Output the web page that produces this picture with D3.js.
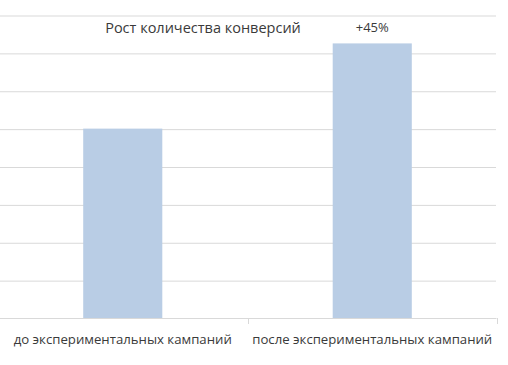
<!DOCTYPE html>
<html><head><meta charset="utf-8">
<script src="https://cdn.jsdelivr.net/npm/d3@7"></script>
<style>html,body{margin:0;padding:0;background:#fff;}svg{display:block;}</style>
</head><body>
<svg id="c" width="508" height="365"></svg>
<script>
const categories = ["до экспериментальных кампаний", "после экспериментальных кампаний"];
const values = [100, 145];
const barLabels = ["", "+45%"];
const yTicks = [20, 40, 60, 80, 100, 120, 140, 160];
const title = "Рост количества конверсий";

const svg = d3.select("#c");
const font = "'Open Sans', 'Noto Sans', sans-serif";
const x = d3.scaleBand().domain(categories).range([-2, 497]).padding(0);
const y = d3.scaleLinear().domain([0, 160]).range([318, 15]);
const barW = x.bandwidth() * 0.317;

// gridlines
svg.append("g")
  .call(d3.axisLeft(y).tickValues(yTicks).tickSize(-496).tickFormat(""))
  .call(g => g.select(".domain").remove())
  .call(g => g.selectAll("line").attr("stroke", "#d9d9d9").attr("stroke-width", 1).attr("transform", "translate(0,0.5)"));

// bars
svg.append("g").selectAll("rect").data(values).join("rect")
  .attr("x", (d, i) => x(categories[i]) + x.bandwidth() / 2 - barW / 2)
  .attr("y", d => y(d))
  .attr("width", barW)
  .attr("height", d => y(0) - y(d))
  .attr("fill", "#b9cde5");

// x axis
const xa = svg.append("g").attr("transform", "translate(0,318.5)")
  .call(d3.axisBottom(x).tickSize(0).tickFormat(""));
xa.select(".domain").attr("stroke", "#d9d9d9").attr("d", "M0,0H496.5");
const bounds = [x(categories[1]), x(categories[1]) + x.bandwidth() - 0.5];
svg.append("g").selectAll("line").data(bounds).join("line")
  .attr("x1", d => Math.round(d) + 0.5).attr("x2", d => Math.round(d) + 0.5)
  .attr("y1", 318).attr("y2", 324)
  .attr("stroke", "#d9d9d9");

// category labels
svg.append("g").selectAll("text").data(categories).join("text")
  .attr("x", d => x(d) + x.bandwidth() / 2)
  .attr("y", 344)
  .attr("text-anchor", "middle")
  .attr("font-family", font).attr("font-size", 13.2)
  .attr("fill", "#3a3a3a")
  .text(d => d);

// bar labels
svg.append("g").selectAll("text").data(values).join("text")
  .attr("x", (d, i) => x(categories[i]) + x.bandwidth() / 2)
  .attr("y", 32)
  .attr("text-anchor", "middle")
  .attr("font-family", font).attr("font-size", 13)
  .attr("fill", "#3a3a3a")
  .text((d, i) => barLabels[i]);

// title
svg.append("text").attr("x", 203).attr("y", 33)
  .attr("text-anchor", "middle")
  .attr("font-family", font).attr("font-size", 14.5)
  .attr("fill", "#3a3a3a")
  .text(title);
</script>
</body></html>
